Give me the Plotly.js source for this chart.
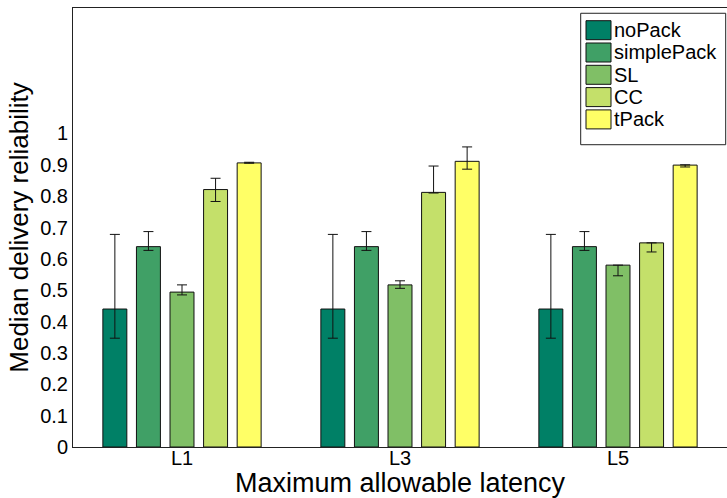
<!DOCTYPE html>
<html>
<head>
<meta charset="utf-8">
<script src="https://cdn.plot.ly/plotly-3.0.1.min.js"></script>
<style>html,body{margin:0;padding:0;background:#fff;}#chart{width:727px;height:498px;}</style>
</head>
<body>
<div id="chart"></div>
<script>
// ---- data ----
var categories = ['L1', 'L3', 'L5'];
var seriesNames = ['noPack', 'simplePack', 'SL', 'CC', 'tPack'];
var seriesColors = ['#008066', '#40A066', '#80BF66', '#C4E06A', '#FFFF66'];

var noPack = [0.440, 0.440, 0.440];
var noPackErrPlus = [0.238, 0.238, 0.238];
var noPackErrMinus = [0.093, 0.093, 0.093];

var simplePack = [0.639, 0.639, 0.639];
var simplePackErrPlus = [0.048, 0.048, 0.048];
var simplePackErrMinus = [0.012, 0.012, 0.012];

var SL = [0.494, 0.517, 0.580];
var SLErrPlus = [0.023, 0.013, 0.000];
var SLErrMinus = [0.009, 0.011, 0.034];

var CC = [0.821, 0.812, 0.651];
var CCErrPlus = [0.036, 0.084, 0.000];
var CCErrMinus = [0.038, 0.002, 0.029];

var tPack = [0.906, 0.911, 0.899];
var tPackErrPlus = [0.002, 0.046, 0.001];
var tPackErrMinus = [0.001, 0.025, 0.006];

var yTickVals = [0, 0.1, 0.2, 0.3, 0.4, 0.5, 0.6, 0.7, 0.8, 0.9, 1];
var yTickText = ['0', '0.1', '0.2', '0.3', '0.4', '0.5', '0.6', '0.7', '0.8', '0.9', '1'];

// ---- build ----
var values = [noPack, simplePack, SL, CC, tPack];
var errPlus = [noPackErrPlus, simplePackErrPlus, SLErrPlus, CCErrPlus, tPackErrPlus];
var errMinus = [noPackErrMinus, simplePackErrMinus, SLErrMinus, CCErrMinus, tPackErrMinus];

var FONT = 'Liberation Sans, Arial, Helvetica, sans-serif';

var traces = seriesNames.map(function (name, i) {
  return {
    type: 'bar',
    name: name,
    x: categories,
    y: values[i],
    marker: { color: seriesColors[i], line: { color: '#111', width: 1 } },
    error_y: {
      type: 'data', symmetric: false,
      array: errPlus[i], arrayminus: errMinus[i],
      color: '#111', thickness: 1, width: 5
    },
    showlegend: false
  };
});

// legend drawn as shapes + annotations (paper coordinates)
var shapes = [{
  type: 'rect', xref: 'paper', yref: 'paper',
  x0: 0.7763, x1: 0.998, y0: 0.6886, y1: 0.988,
  line: { color: '#222', width: 1 }, fillcolor: '#fff', layer: 'above'
}];
var annotations = [];
var pxTop = 20.7, pxStep = 22.3, pxH = 19;
seriesNames.forEach(function (name, i) {
  var t = pxTop + pxStep * i;
  shapes.push({
    type: 'rect', xref: 'paper', yref: 'paper',
    x0: (586 - 73) / 654, x1: (611 - 73) / 654,
    y0: (447 - (t + pxH)) / 439, y1: (447 - t) / 439,
    fillcolor: seriesColors[i], line: { color: '#111', width: 1 }, layer: 'above'
  });
  annotations.push({
    xref: 'paper', yref: 'paper',
    x: (612 - 73) / 654, y: (447 - (t + pxH / 2)) / 439,
    xanchor: 'left', yanchor: 'middle', showarrow: false,
    text: name, font: { family: FONT, size: 20, color: '#000' }
  });
});

var layout = {
  width: 727, height: 498,
  margin: { l: 73, r: 0, t: 8, b: 51 },
  paper_bgcolor: '#fff', plot_bgcolor: '#fff',
  font: { family: FONT, color: '#000' },
  barmode: 'group',
  bargap: 0.23,
  bargroupgap: 0.286,
  showlegend: false,
  xaxis: {
    type: 'category',
    range: [-0.5, 2.5],
    showline: true, linecolor: '#222', linewidth: 1, mirror: true,
    ticks: '', showgrid: false, zeroline: false,
    ticklabelstandoff: -7,
    tickfont: { family: FONT, size: 20, color: '#000' },
    title: { text: 'Maximum allowable latency', font: { family: FONT, size: 27, color: '#000' }, standoff: 12 }
  },
  yaxis: {
    range: [0, 1.4],
    tickmode: 'array', tickvals: yTickVals, ticktext: yTickText,
    showline: true, linecolor: '#222', linewidth: 1,
    ticks: '', showgrid: false, zeroline: false,
    tickfont: { family: FONT, size: 20, color: '#000' },
    title: { text: 'Median delivery reliability', font: { family: FONT, size: 26, color: '#000' }, standoff: 4 }
  },
  shapes: shapes,
  annotations: annotations
};

Plotly.newPlot('chart', traces, layout, { staticPlot: true, displayModeBar: false });
</script>
</body>
</html>
